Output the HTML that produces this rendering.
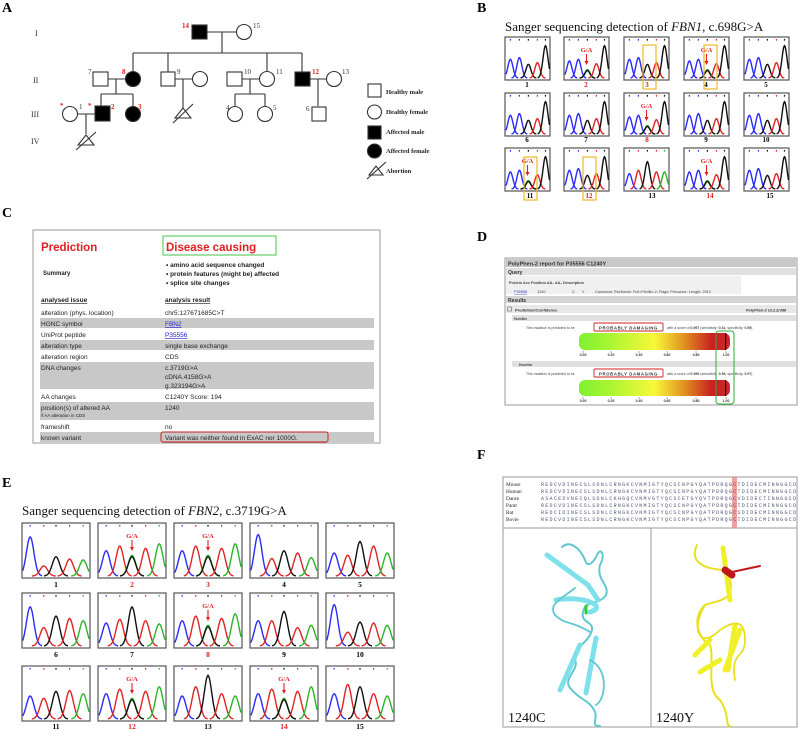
<!DOCTYPE html>
<html><head><meta charset="utf-8"><style>
html,body{margin:0;padding:0;background:#fff}
svg{display:block}
.s{font-family:"Liberation Serif",serif}
.a{font-family:"Liberation Sans",sans-serif}
</style></head><body>
<svg id="g" width="800" height="732" viewBox="0 0 800 732" xmlns="http://www.w3.org/2000/svg">
<g class="s" font-weight="bold" font-size="14">
<text x="2" y="12">A</text><text x="477" y="12">B</text><text x="2" y="217">C</text>
<text x="477" y="241">D</text><text x="2" y="487">E</text><text x="477" y="459">F</text></g>

<g class="s" font-size="8" fill="#333">
<text x="35" y="36">I</text><text x="33" y="83">II</text><text x="31" y="117">III</text><text x="31" y="144">IV</text></g>
<g stroke="#333" stroke-width="1.1" fill="none">
<rect x="192" y="25" width="15" height="14" fill="#000"/><circle cx="244" cy="32" r="7.5" fill="#fff"/>
<path d="M207 32H236M222 32V53M133 53H302M133 53V72M168 53V72M267 53V72M302 53V72"/>
<rect x="93" y="72" width="15" height="14" fill="#fff"/><circle cx="133" cy="79" r="7.5" fill="#000"/>
<rect x="161" y="72" width="14" height="14" fill="#fff"/><circle cx="200" cy="79" r="7.5" fill="#fff"/>
<rect x="227" y="72" width="15" height="14" fill="#fff"/><circle cx="267" cy="79" r="7.5" fill="#fff"/>
<rect x="295" y="72" width="15" height="14" fill="#000"/><circle cx="334" cy="79" r="7.5" fill="#fff"/>
<path d="M108 79H126M116 79V94M101 94H133M101 94V106M133 94V106"/>
<path d="M175 79H193M183 79V108M242 79H260M250 79V94M235 94H265M235 94V106M265 94V106M310 79H327M318 79V106"/>
<circle cx="70" cy="114" r="7.5" fill="#fff"/><rect x="95" y="106" width="15" height="15" fill="#000"/><circle cx="133" cy="114" r="7.5" fill="#000"/>
<circle cx="235" cy="114" r="7.5" fill="#fff"/><circle cx="265" cy="114" r="7.5" fill="#fff"/><rect x="312" y="107" width="14" height="14" fill="#fff"/>
<path d="M77 114H95M86 114V134"/>
<path d="M78 145L86 135L94 145ZM76 150L96 132"/>
<path d="M175 118L183 108L191 118ZM173 123L193 104"/>
<rect x="368" y="84" width="13" height="13" fill="#fff"/><circle cx="374.5" cy="112" r="7" fill="#fff"/>
<rect x="368" y="126" width="13" height="13" fill="#000"/><circle cx="374.5" cy="151" r="7" fill="#000"/>
<path d="M369 175L376 166L383 175ZM367 179L386 162"/>
</g>
<g class="s" font-size="6.5" font-weight="bold" fill="#222">
<text x="386" y="94">Healthy male</text><text x="386" y="114">Healthy female</text><text x="386" y="134">Affected male</text><text x="386" y="153">Affected female</text><text x="386" y="173">Abortion</text></g>
<g class="s" font-size="7" fill="#333">
<text x="253" y="28">15</text><text x="88" y="74">7</text><text x="177" y="74">9</text><text x="244" y="74">10</text><text x="276" y="74">11</text><text x="342" y="74">13</text>
<text x="79" y="109">1</text><text x="226" y="110">4</text><text x="273" y="110">5</text><text x="306" y="111">6</text></g>
<g class="s" font-size="7" font-weight="bold" fill="#e02020">
<text x="182" y="28">14</text><text x="122" y="74">8</text><text x="312" y="74">12</text><text x="60" y="108">*</text><text x="88" y="108">*</text><text x="111" y="109">2</text><text x="138" y="109">3</text></g>

<text class="s" x="505" y="31" font-size="13" fill="#111">Sanger sequencing detection of <tspan font-style="italic">FBN1</tspan>, c.698G&gt;A</text>
<g id="B"></g>
<g class="s" font-size="7" font-weight="bold" text-anchor="middle">
<text x="527" y="87">1</text><text x="586" y="87" fill="#e02020">2</text><text x="647" y="87" fill="#e02020">3</text><text x="706" y="87">4</text><text x="766" y="87">5</text>
<text x="527" y="142">6</text><text x="586" y="142">7</text><text x="647" y="142" fill="#e02020">8</text><text x="706" y="142">9</text><text x="766" y="142">10</text>
<text x="530" y="198">11</text><text x="589" y="198" fill="#e02020">12</text><text x="652" y="198">13</text><text x="710" y="198" fill="#e02020">14</text><text x="770" y="198">15</text></g>
<g fill="none" stroke="#f0b828" stroke-width="1.2">
<rect x="643" y="45" width="13" height="44"/><rect x="704" y="45" width="13" height="44"/>
<rect x="524" y="157" width="13" height="43"/><rect x="583" y="157" width="13" height="43"/></g>

<rect x="33" y="230" width="347" height="213" fill="#fff" stroke="#999"/>
<g class="a">
<text x="41" y="251" font-size="11.5" font-weight="bold" fill="#e02020">Prediction</text>
<rect x="163" y="236" width="113" height="19" fill="none" stroke="#6c6" stroke-width="1.2"/>
<text x="166" y="251" font-size="11.5" font-weight="bold" fill="#e02020">Disease causing</text>
<text x="43" y="275" font-size="6" font-weight="bold" fill="#222">Summary</text>
<g font-size="6.5" font-weight="bold" fill="#222"><text x="166" y="267">• amino acid sequence changed</text><text x="166" y="276">• protein features (might be) affected</text><text x="166" y="285">• splice site changes</text></g>
<g fill="#c8c8c8"><rect x="40" y="318" width="334" height="10"/><rect x="40" y="340" width="334" height="10"/><rect x="40" y="362" width="334" height="27"/><rect x="40" y="402" width="334" height="18"/><rect x="40" y="432" width="334" height="10"/></g>
<g font-size="6.5" fill="#222">
<text x="41" y="302" font-weight="bold" text-decoration="underline">analysed issue</text><text x="165" y="302" font-weight="bold" text-decoration="underline">analysis result</text>
<text x="41" y="315">alteration (phys. location)</text><text x="165" y="315">chr5:127671685C&gt;T</text>
<text x="41" y="326">HGNC symbol</text><text x="165" y="326" fill="#22c" text-decoration="underline">FBN2</text>
<text x="41" y="337">UniProt peptide</text><text x="165" y="337" fill="#22c" text-decoration="underline">P35556</text>
<text x="41" y="348">alteration type</text><text x="165" y="348">single base exchange</text>
<text x="41" y="359">alteration region</text><text x="165" y="359">CDS</text>
<text x="41" y="370">DNA changes</text><text x="165" y="370">c.3719G&gt;A</text><text x="165" y="379">cDNA.4158G&gt;A</text><text x="165" y="388">g.323194G&gt;A</text>
<text x="41" y="399">AA changes</text><text x="165" y="399">C1240Y Score: 194</text>
<text x="41" y="410">position(s) of altered AA</text><text x="41" y="417" font-size="4.5">if AA alteration in CDS</text><text x="165" y="410">1240</text>
<text x="41" y="429">frameshift</text><text x="165" y="429">no</text>
<text x="41" y="440">known variant</text><text x="165" y="440">Variant was neither found in ExAC nor 1000G.</text></g>
<rect x="161" y="432" width="167" height="10" rx="2" fill="none" stroke="#d02020" stroke-width="1"/>
</g>

<defs><linearGradient id="pg" x1="0" x2="1"><stop offset="0" stop-color="#7ef032"/><stop offset="0.2" stop-color="#a8f532"/><stop offset="0.5" stop-color="#f8f838"/><stop offset="0.7" stop-color="#e09020"/><stop offset="0.88" stop-color="#c82020"/><stop offset="1" stop-color="#d02828"/></linearGradient></defs>
<g class="a">
<rect x="505" y="258" width="292" height="147" fill="#fff" stroke="#999"/>
<rect x="506" y="259" width="290" height="8" fill="#c8c8c8"/>
<text x="508" y="265.5" font-size="5.5" font-weight="bold" fill="#333">PolyPhen-2 report for P35556 C1240Y</text>
<rect x="506" y="268" width="290" height="7" fill="#e0e0e0"/><text x="508" y="274" font-size="5" font-weight="bold" fill="#333">Query</text>
<rect x="506" y="276" width="235" height="18" fill="#f0f0f0"/>
<g font-size="3.8" fill="#444"><text x="509" y="284" font-weight="bold">Protein Acc   Position   AA₁   AA₂   Description</text>
<text x="514" y="293" fill="#33c" text-decoration="underline">P35556</text><text x="537" y="293">1240</text><text x="572" y="293">C</text><text x="582" y="293">Y</text><text x="595" y="293">Canonical; RecName: Full=Fibrillin-2; Flags: Precursor; Length: 2912</text></g>
<rect x="506" y="296" width="290" height="7" fill="#d4d4d4"/><text x="508" y="302" font-size="5" font-weight="bold" fill="#333">Results</text>
<rect x="506" y="305" width="290" height="8" fill="#e8e8e8"/><rect x="507.5" y="307" width="4" height="4" fill="none" stroke="#555" stroke-width="0.5"/>
<text x="515" y="311.5" font-size="4" font-weight="bold" fill="#333">Prediction/Confidence</text><text x="746" y="311.5" font-size="3.8" font-style="italic" font-weight="bold" fill="#333">PolyPhen-2 v2.2.2r398</text>
<rect x="512" y="315" width="284" height="6" fill="#e0e0e0"/><text x="514" y="320" font-size="3.5" font-weight="bold" fill="#444">HumDiv</text>
<rect x="512" y="361" width="284" height="6" fill="#e0e0e0"/><text x="519" y="366" font-size="3.5" font-weight="bold" fill="#444">HumVar</text>
<g font-size="3.5" fill="#444"><text x="526" y="329">This mutation is predicted to be</text><text x="667" y="329">with a score of <tspan font-weight="bold">0.997</tspan> (sensitivity: <tspan font-weight="bold">0.41</tspan>; specificity: <tspan font-weight="bold">0.98</tspan>)</text>
<text x="526" y="375">This mutation is predicted to be</text><text x="667" y="375">with a score of <tspan font-weight="bold">0.996</tspan> (sensitivity: <tspan font-weight="bold">0.36</tspan>; specificity: <tspan font-weight="bold">0.97</tspan>)</text></g>
<rect x="594" y="323" width="69" height="8" fill="#fff" stroke="#d02020" stroke-width="0.9" rx="1"/><text x="628.5" y="329.5" font-size="4.3" font-weight="bold" text-anchor="middle" letter-spacing="0.6" fill="#333">PROBABLY DAMAGING</text>
<rect x="594" y="369" width="69" height="8" fill="#fff" stroke="#d02020" stroke-width="0.9" rx="1"/><text x="628.5" y="375.5" font-size="4.3" font-weight="bold" text-anchor="middle" letter-spacing="0.6" fill="#333">PROBABLY DAMAGING</text>
<rect x="579" y="333" width="151" height="17" rx="6" fill="url(#pg)"/><rect x="579" y="380" width="151" height="16" rx="6" fill="url(#pg)"/>
<rect x="725" y="333" width="1.2" height="17" fill="#000"/><rect x="725" y="380" width="1.2" height="16" fill="#000"/>
<g font-size="3.5" font-weight="bold" fill="#333" text-anchor="middle"><text x="583" y="356">0.00</text><text x="611" y="356">0.20</text><text x="639" y="356">0.40</text><text x="667" y="356">0.60</text><text x="696" y="356">0.80</text><text x="726" y="356">1.00</text>
<text x="583" y="402">0.00</text><text x="611" y="402">0.20</text><text x="639" y="402">0.40</text><text x="667" y="402">0.60</text><text x="696" y="402">0.80</text><text x="726" y="402">1.00</text></g>
<path d="M583 351V353M611 351V353M639 351V353M667 351V353M696 351V353M726 351V353M583 397V399M611 397V399M639 397V399M667 397V399M696 397V399M726 397V399" stroke="#555" stroke-width="0.5"/>
<rect x="716" y="331" width="18" height="73" rx="3" fill="none" stroke="#3a3" stroke-width="1"/>
</g>

<text class="s" x="22" y="515" font-size="13" fill="#111">Sanger sequencing detection of <tspan font-style="italic">FBN2</tspan>, c.3719G&gt;A</text>
<g id="E"></g>
<g class="s" font-size="7.5" font-weight="bold" text-anchor="middle">
<text x="56" y="587">1</text><text x="132" y="587" fill="#e02020">2</text><text x="208" y="587" fill="#e02020">3</text><text x="284" y="587">4</text><text x="360" y="587">5</text>
<text x="56" y="657">6</text><text x="132" y="657">7</text><text x="208" y="657" fill="#e02020">8</text><text x="284" y="657">9</text><text x="360" y="657">10</text>
<text x="56" y="729">11</text><text x="132" y="729" fill="#e02020">12</text><text x="208" y="729">13</text><text x="284" y="729" fill="#e02020">14</text><text x="360" y="729">15</text></g>

<rect x="503" y="477" width="294" height="250" fill="#fff" stroke="#999"/>
<path d="M503 528H797M651 528V727" stroke="#999"/>
<rect x="732" y="477" width="5" height="51" fill="#e88" opacity="0.8"/>
<g class="s" font-size="5.3" fill="#222"><text x="506" y="486">Mouse</text><text x="506" y="493">Human</text><text x="506" y="500">Danre</text><text x="506" y="507">Pantr</text><text x="506" y="514">Rat</text><text x="506" y="521">Bovie</text></g>
<g font-family="Liberation Mono,monospace" font-size="5" fill="#557">
<text x="541" y="486" textLength="255">REDCVDINECSLSDNLCRNGKCVNMIGTYQCSCNPGYQATPDRQGCTDIDECMINNGGCD</text>
<text x="541" y="493" textLength="255">REDCVDINECSLSDNLCRNGKCVNMIGTYQCSCNPGYQATPDRQGCTDIDECMINNGGCD</text>
<text x="541" y="500" textLength="255">ASACEDVNECQLSDNLCKHGQCVNMVGTYQCSCETGYQVTPDRQGCVDIDECTINNGGCD</text>
<text x="541" y="507" textLength="255">REDCVDINECSLSDNLCRNGKCVNMIGTYQCSCNPGYQATPDRQGCTDIDECMINNGGCD</text>
<text x="541" y="514" textLength="255">REDCIDINECSLSDNLCRNGKCVNMIGTYQCSCNPGYQATPDRQGCSDIDECMINNGGCD</text>
<text x="541" y="521" textLength="255">REDCVDINECSLSDNLCRNGKCVNMIGTYQCSCNPGYQATPDRQGCTDIDECMINNGGCD</text></g>
<g fill="none" stroke-linecap="round" stroke-linejoin="round">
<path d="M562 547C570 540 580 548 585 560C588 570 595 560 598 553C602 548 605 556 600 565C596 580 610 585 606 595C600 605 585 600 583 612C580 625 598 620 590 635C585 645 570 650 575 660C580 670 560 680 572 690C580 700 590 700 595 712C598 720 590 726 600 726" stroke="#5fc8d0" stroke-width="2"/>
<path d="M547 555L588 585L598 600M556 600C580 595 610 606 590 612M580 645L560 690M596 638L586 693" stroke="#7ee0ea" stroke-width="5"/>
<path d="M575 588C560 600 548 604 555 615C565 625 570 620 590 632M590 660C610 670 605 700 596 705" stroke="#5fc8d0" stroke-width="1.8"/>
<path d="M586 606V613" stroke="#3c3" stroke-width="3"/>
<path d="M697 545C690 560 700 568 722 570L730 580C735 600 720 600 705 605C690 620 700 640 710 645C715 660 705 690 720 700C730 715 725 725 730 726" stroke="#e8e020" stroke-width="2"/>
<path d="M723 548L730 600M695 655L710 640M740 630L725 670M735 625L728 670M720 660L700 672" stroke="#f0f028" stroke-width="5"/>
<path d="M725 570L732 575" stroke="#c01818" stroke-width="7"/><path d="M732 572L760 566" stroke="#c01818" stroke-width="2"/>
<path d="M705 605C690 630 700 650 720 630C735 620 745 620 745 640C745 660 730 650 735 680" stroke="#e8e020" stroke-width="1.8"/>
</g>
<text class="s" x="508" y="722" font-size="14" fill="#111">1240C</text>
<text class="s" x="656" y="722" font-size="14" fill="#111">1240Y</text>
</svg>
<script>
(function(){
var NS="http://www.w3.org/2000/svg";
var C={b:"#2a2aff",r:"#e02424",k:"#111",g:"#28b428"};
function el(p,t,a){var e=document.createElementNS(NS,t);for(var k in a)e.setAttribute(k,a[k]);p.appendChild(e);return e;}
function chrom(g,x,y,w,h,pk,het){
 el(g,"rect",{x:x,y:y,width:w,height:h,fill:"#fff",stroke:"#555","stroke-width":1.2});
 var base=y+h-2,top=y+7;
 pk.forEach(function(p){
  var cx=x+p[0]*w,s=w*0.055,H=p[1]*(base-top),d="";
  for(var j=-16;j<=16;j++){var t=j*0.2,xx=cx+t*s;if(xx<x+0.5||xx>x+w-0.5)continue;var yy=base-H*Math.exp(-t*t/2);d+=(d?"L":"M")+xx.toFixed(1)+" "+yy.toFixed(1);}
  el(g,"path",{d:d,fill:"none",stroke:C[p[2]],"stroke-width":1.4});
  el(g,"rect",{x:cx-0.6,y:y+2,width:1.2,height:1.6,fill:C[p[2]]});
 });
 if(het){var cx=x+0.5*w;
  var tx=el(g,"text",{x:cx,y:y+15,"font-size":6.5,"font-weight":"bold","text-anchor":"middle",fill:"#e02020","font-family":"Liberation Serif,serif"});
  el(g,"path",{d:"M"+cx+" "+(y+17)+"V"+(y+26),stroke:"#e02020","stroke-width":1.1});
  el(g,"path",{d:"M"+(cx-2)+" "+(y+24)+"L"+cx+" "+(y+28)+"L"+(cx+2)+" "+(y+24)+"Z",fill:"#e02020"});
 }
}
var B=document.getElementById("B"),E=document.getElementById("E");
var bx=[505,564,624,684,744],by=[37,93,148];
var bn=[[.12,.55,"b"],[.32,.6,"b"],[.52,.4,"k"],[.72,.45,"r"],[.9,.95,"k"]];
var bh=[[.12,.5,"b"],[.32,.55,"b"],[.52,.25,"g"],[.52,.22,"k"],[.72,.42,"r"],[.9,.95,"k"]];
var b13=[[.12,.45,"b"],[.32,.55,"r"],[.52,.8,"k"],[.72,.5,"r"],[.9,.5,"g"]];
var hetB={1:1,3:1,7:1,10:1,13:1};
for(var r=0;r<3;r++)for(var c=0;c<5;c++){var i=r*5+c;chrom(B,bx[c],by[r],45,43,i==12?b13:(hetB[i]?bh:bn),hetB[i]);}
var ex=[22,98,174,250,326],ey=[523,593,666];
var ep=[
[[.12,.85,"b"],[.32,.22,"r"],[.5,.42,"k"],[.7,.37,"r"],[.9,.35,"g"]],
0,0,
[[.12,.9,"b"],[.32,.38,"r"],[.5,.55,"k"],[.7,.5,"r"],[.9,.4,"g"]],
[[.12,.5,"b"],[.32,.45,"r"],[.5,.75,"k"],[.7,.65,"r"],[.9,.5,"g"]],
[[.12,.85,"b"],[.32,.4,"r"],[.5,.65,"k"],[.7,.6,"r"],[.9,.55,"g"]],
[[.12,.5,"b"],[.32,.58,"r"],[.5,.85,"k"],[.7,.55,"r"],[.9,.48,"g"]],
0,
[[.12,.55,"b"],[.32,.55,"r"],[.5,.75,"k"],[.7,.4,"r"],[.9,.45,"g"]],
[[.12,.9,"b"],[.32,.3,"r"],[.5,.52,"k"],[.7,.5,"r"],[.9,.45,"g"]],
[[.12,.5,"b"],[.32,.45,"r"],[.5,.6,"k"],[.7,.62,"r"],[.9,.55,"g"]],
0,
[[.12,.5,"b"],[.32,.7,"r"],[.5,.95,"k"],[.7,.55,"r"],[.9,.5,"g"]],
0,
[[.12,.55,"b"],[.32,.75,"r"],[.5,.7,"k"],[.7,.55,"r"],[.9,.5,"g"]]];
var eh=[[.12,.55,"b"],[.32,.65,"r"],[.5,.45,"g"],[.5,.42,"k"],[.7,.6,"r"],[.9,.7,"g"]];
for(var r=0;r<3;r++)for(var c=0;c<5;c++){var i=r*5+c;chrom(E,ex[c],ey[r],68,55,ep[i]||eh,!ep[i]);}
document.querySelectorAll("#B text,#E text").forEach(function(t){t.textContent="G/A";});
})();
</script>
</body></html>
